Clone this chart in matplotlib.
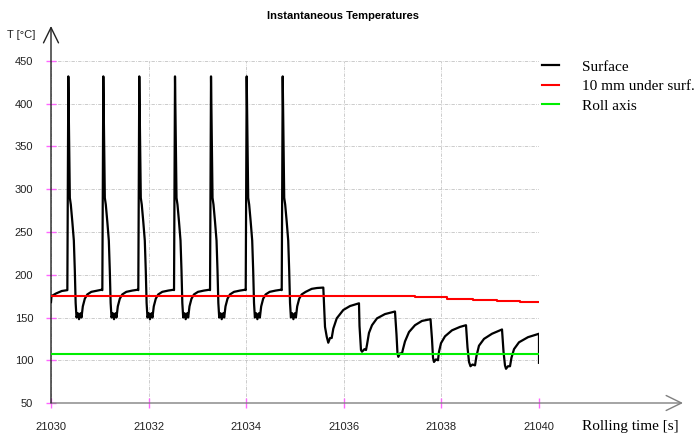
"""
Instantaneous temperatures of the roll: surface, 10 mm below it and the axis.
"""

from matplotlib import pyplot as plt

# surface temperature, one list pair per revolution [s], [degC]
surf_t = [
    [21030.000, 21030.010, 21030.100, 21030.220],
    [21030.335, 21030.355, 21030.371, 21030.386, 21030.406, 21030.437, 21030.468, 21030.488, 21030.505, 21030.523,
     21030.550, 21030.574, 21030.605, 21030.625, 21030.652, 21030.693, 21030.744, 21030.826, 21030.949, 21031.040],
    [21031.052, 21031.072, 21031.088, 21031.103, 21031.123, 21031.154, 21031.185, 21031.205, 21031.222, 21031.240,
     21031.267, 21031.291, 21031.322, 21031.342, 21031.369, 21031.410, 21031.461, 21031.543, 21031.666, 21031.779],
    [21031.789, 21031.809, 21031.825, 21031.840, 21031.860, 21031.891, 21031.922, 21031.942, 21031.959, 21031.977,
     21032.004, 21032.028, 21032.059, 21032.079, 21032.106, 21032.147, 21032.198, 21032.280, 21032.403, 21032.516],
    [21032.521, 21032.541, 21032.557, 21032.572, 21032.592, 21032.623, 21032.654, 21032.674, 21032.691, 21032.709,
     21032.736, 21032.760, 21032.791, 21032.811, 21032.838, 21032.879, 21032.930, 21033.012, 21033.135, 21033.248],
    [21033.259, 21033.279, 21033.295, 21033.310, 21033.330, 21033.361, 21033.392, 21033.412, 21033.429, 21033.447,
     21033.474, 21033.498, 21033.529, 21033.549, 21033.576, 21033.617, 21033.668, 21033.750, 21033.873, 21033.986],
    [21033.990, 21034.010, 21034.026, 21034.041, 21034.061, 21034.092, 21034.123, 21034.143, 21034.160, 21034.178,
     21034.205, 21034.229, 21034.260, 21034.280, 21034.307, 21034.348, 21034.399, 21034.481, 21034.604, 21034.717],
    [21034.728, 21034.748, 21034.764, 21034.779, 21034.799, 21034.830, 21034.861, 21034.881, 21034.898, 21034.916,
     21034.943, 21034.967, 21034.998, 21035.018, 21035.045, 21035.086, 21035.137, 21035.219, 21035.342, 21035.450,
     21035.564],
    [21035.580, 21035.615, 21035.650, 21035.682, 21035.717, 21035.752, 21035.785, 21035.855, 21035.990, 21036.127,
     21036.311],
    [21036.322, 21036.352, 21036.373, 21036.424, 21036.455, 21036.475, 21036.516, 21036.578, 21036.680, 21036.844,
     21037.049],
    [21037.080, 21037.100, 21037.117, 21037.152, 21037.193, 21037.213, 21037.254, 21037.336, 21037.459, 21037.602,
     21037.777],
    [21037.807, 21037.828, 21037.848, 21037.889, 21037.930, 21037.951, 21037.992, 21038.074, 21038.217, 21038.381,
     21038.504],
    [21038.535, 21038.566, 21038.596, 21038.637, 21038.689, 21038.719, 21038.770, 21038.873, 21039.037, 21039.242],
    [21039.273, 21039.303, 21039.324, 21039.365, 21039.406, 21039.436, 21039.488, 21039.590, 21039.775, 21040.000,
     21040.000],
]
surf_T = [
    [168, 175, 178, 181],
    [182, 432, 360, 290, 282, 262, 240, 205, 167, 150, 155, 148, 155, 150, 163, 172, 177, 180, 181.5, 182.5],
    [182, 432, 360, 290, 282, 262, 240, 205, 167, 150, 155, 148, 155, 150, 163, 172, 177, 180, 181.5, 182.5],
    [182, 432, 360, 290, 282, 262, 240, 205, 167, 150, 155, 148, 155, 150, 163, 172, 177, 180, 181.5, 182.5],
    [182, 432, 360, 290, 282, 262, 240, 205, 167, 150, 155, 148, 155, 150, 163, 172, 177, 180, 181.5, 182.5],
    [182, 432, 360, 290, 282, 262, 240, 205, 167, 150, 155, 148, 155, 150, 163, 172, 177, 180, 181.5, 182.5],
    [182, 432, 360, 290, 282, 262, 240, 205, 167, 150, 155, 148, 155, 150, 163, 172, 177, 180, 181.5, 182.5],
    [182, 432, 360, 290, 282, 262, 240, 205, 167, 150, 155, 148, 155, 150, 163, 172, 177, 180, 183.5, 184.5,
     185],
    [185, 139, 127.6, 120.5, 126, 126, 137, 149, 158.8, 163.4, 166.6],
    [140, 112, 110, 113, 112, 118, 132, 141, 149, 154, 157],
    [130, 108, 104, 108, 108, 113, 122, 133, 141, 146, 148],
    [125, 103, 98, 101, 100, 110, 120, 128, 135, 139, 141],
    [115, 98, 93, 95, 94, 105, 117, 125, 131, 136],
    [110, 94, 90, 93, 93, 103, 113, 121, 127, 131, 97],
]

# 10 mm under the surface (stepped record)
sub_t = [21030.0, 21037.46, 21038.12, 21038.65, 21039.14, 21039.61, 21040.0]
sub_T = [175.1, 173.6, 172.0, 170.5, 169.7, 168.5, 168.5]

# roll axis
axis_t = [21030.0, 21040.0]
axis_T = [107.7, 107.7]

labels = ["Surface", "10 mm under surf.", "Roll axis"]
xticks = [21030, 21032, 21034, 21036, 21038, 21040]
yticks = [50, 100, 150, 200, 250, 300, 350, 400, 450]

W, H = 698, 436
SANS = "Liberation Sans"
SERIF = "Liberation Serif"


def main():
    fig = plt.figure(figsize=(W / 100, H / 100), dpi=100)
    ax = fig.add_axes([51 / W, 1 - 403 / H, 488 / W, 342 / H])

    xs = [t for part in surf_t for t in part]
    ys = [v for part in surf_T for v in part]
    ax.plot(xs, ys, color="black", lw=1.6, label=labels[0], zorder=3)
    ax.plot(sub_t, sub_T, color="#ff0000", lw=1.5, drawstyle="steps-post", label=labels[1], zorder=4)
    ax.plot(axis_t, axis_T, color="#00ee00", lw=1.5, label=labels[2], zorder=4)

    ax.set_xlim(21030, 21040)
    ax.set_ylim(50, 450)
    ax.set_xticks(xticks)
    ax.set_yticks(yticks)
    ax.ticklabel_format(useOffset=False, style="plain")

    for side in ("top", "right", "left", "bottom"):
        ax.spines[side].set_visible(False)

    ax.grid(True, color="#c4c4c4", linestyle=(0, (4, 1.5, 1, 1.5)), lw=0.6, zorder=1)
    ax.tick_params(axis="both", direction="inout", length=7.5, width=1,
                   color="#ff66ff", labelsize=8, labelcolor="#222222")
    ax.tick_params(axis="y", pad=9)
    ax.tick_params(axis="x", pad=10)
    for lab in ax.get_xticklabels() + ax.get_yticklabels():
        lab.set_family(SANS)

    # axes drawn as arrows
    x0, y0 = 51 / W, 1 - 403 / H
    arrow = "->,head_length=0.55,head_width=0.27"
    ax.annotate("", xy=(683 / W, y0), xycoords="figure fraction", xytext=(x0, y0),
                arrowprops=dict(arrowstyle=arrow, mutation_scale=20, color="#808080",
                                lw=1, shrinkA=0, shrinkB=0), zorder=2)
    ax.annotate("", xy=(x0, 1 - 26 / H), xycoords="figure fraction", xytext=(x0, y0),
                arrowprops=dict(arrowstyle=arrow, mutation_scale=20, color="#222222",
                                lw=1, shrinkA=0, shrinkB=0), zorder=2)

    fig.text(343 / W, 1 - 16 / H, "Instantaneous Temperatures", ha="center", va="center",
             family=SANS, fontsize=8, fontweight="bold")
    fig.text(7 / W, 1 - 35 / H, "T [°C]", ha="left", va="center", family=SANS, fontsize=8,
             color="#222222")
    fig.text(582 / W, 1 - 426 / H, "Rolling time [s]", ha="left", va="center",
             family=SERIF, fontsize=11)

    ax.legend(loc="upper left", bbox_to_anchor=(542 / W, 1 - 60 / H), bbox_transform=fig.transFigure,
              frameon=False, prop={"family": SERIF, "size": 11}, handlelength=1.1,
              handletextpad=1.5, labelspacing=0.38, borderpad=0, borderaxespad=0)

    fig.savefig("out.png", dpi=100)


if __name__ == "__main__":
    main()
